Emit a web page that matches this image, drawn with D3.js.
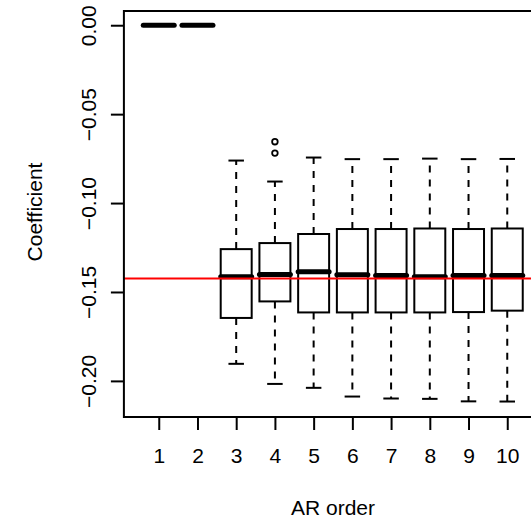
<!DOCTYPE html>
<html>
<head>
<meta charset="utf-8">
<script src="https://cdn.jsdelivr.net/npm/d3@7"></script>
<style>
  html, body { margin: 0; padding: 0; background: #fff; }
  svg { display: block; }
  text { font-family: "Liberation Sans", Arial, Helvetica, sans-serif; fill: #000; }
</style>
</head>
<body>
<svg id="chart" width="531" height="520"></svg>
<script>
// ---- data ----
const orders = [1, 2, 3, 4, 5, 6, 7, 8, 9, 10];
const upperWhisker = [0, 0, -0.0761, -0.0879, -0.0744, -0.0753, -0.0753, -0.0750, -0.0753, -0.0752];
const q3 = [0, 0, -0.1259, -0.1225, -0.1174, -0.1146, -0.1146, -0.1143, -0.1146, -0.1143];
const median = [0, 0, -0.1414, -0.1402, -0.1386, -0.1403, -0.1407, -0.1414, -0.1408, -0.1407];
const q1 = [0, 0, -0.1646, -0.1553, -0.1615, -0.1615, -0.1615, -0.1615, -0.1613, -0.1605];
const lowerWhisker = [0, 0, -0.1904, -0.2017, -0.2039, -0.2088, -0.2099, -0.2101, -0.2115, -0.2116];
const outlierOrders = [4, 4];
const outlierValues = [-0.0655, -0.0719];
const refValue = -0.1424;
const yTicks = [0.00, -0.05, -0.10, -0.15, -0.20];
const xLabel = "AR order";
const yLabel = "Coefficient";

// ---- layout ----
const FS = 21;
const plot = { left: 123.9, right: 542.1, top: 11, bottom: 417 };
const svg = d3.select("#chart");

const x = d3.scaleLinear().domain([0.1, 10.9]).range([plot.left, plot.right]);
const y = d3.scaleLinear().domain([-0.2203, 0.0080]).range([plot.bottom, plot.top]);

const boxW = (x(1) - x(0)) * 0.8;
const capW = boxW * 0.5;

svg.append("defs").append("clipPath").attr("id", "clip")
  .append("rect").attr("x", plot.left).attr("y", plot.top)
  .attr("width", plot.right - plot.left).attr("height", plot.bottom - plot.top);

const g = svg.append("g").attr("clip-path", "url(#clip)");

const boxes = orders.map((o, i) => ({
  o, hi: upperWhisker[i], q3: q3[i], med: median[i], q1: q1[i], lo: lowerWhisker[i]
}));

const bg = g.selectAll("g.box").data(boxes).join("g").attr("class", "box");

// whiskers (dashed), drawn from the box outwards
bg.filter(d => d.hi !== d.q3).append("line")
  .attr("x1", d => x(d.o)).attr("x2", d => x(d.o))
  .attr("y1", d => y(d.q3)).attr("y2", d => y(d.hi))
  .attr("stroke", "#000").attr("stroke-width", 2).attr("stroke-dasharray", "7,7");
bg.filter(d => d.lo !== d.q1).append("line")
  .attr("x1", d => x(d.o)).attr("x2", d => x(d.o))
  .attr("y1", d => y(d.q1)).attr("y2", d => y(d.lo))
  .attr("stroke", "#000").attr("stroke-width", 2).attr("stroke-dasharray", "7,7");
// staples
bg.filter(d => d.hi !== d.q3).append("line")
  .attr("x1", d => x(d.o) - capW / 2).attr("x2", d => x(d.o) + capW / 2)
  .attr("y1", d => y(d.hi)).attr("y2", d => y(d.hi))
  .attr("stroke", "#000").attr("stroke-width", 2);
bg.filter(d => d.lo !== d.q1).append("line")
  .attr("x1", d => x(d.o) - capW / 2).attr("x2", d => x(d.o) + capW / 2)
  .attr("y1", d => y(d.lo)).attr("y2", d => y(d.lo))
  .attr("stroke", "#000").attr("stroke-width", 2);
// box
bg.append("rect")
  .attr("x", d => x(d.o) - boxW / 2).attr("width", boxW)
  .attr("y", d => y(d.q3)).attr("height", d => y(d.q1) - y(d.q3))
  .attr("fill", "none").attr("stroke", "#000").attr("stroke-width", 2);
// median
bg.append("line")
  .attr("x1", d => x(d.o) - boxW / 2).attr("x2", d => x(d.o) + boxW / 2)
  .attr("y1", d => y(d.med)).attr("y2", d => y(d.med))
  .attr("stroke", "#000").attr("stroke-width", 5).attr("stroke-linecap", "round");

// outliers
g.selectAll("circle.out").data(outlierOrders.map((o, i) => ({ o, v: outlierValues[i] })))
  .join("circle").attr("class", "out")
  .attr("cx", d => x(d.o)).attr("cy", d => y(d.v)).attr("r", 2.8)
  .attr("fill", "none").attr("stroke", "#000").attr("stroke-width", 1.8);

// reference line
g.append("line")
  .attr("x1", plot.left).attr("x2", plot.right)
  .attr("y1", y(refValue)).attr("y2", y(refValue))
  .attr("stroke", "#ff0000").attr("stroke-width", 2);

// frame
svg.append("rect")
  .attr("x", plot.left).attr("y", plot.top)
  .attr("width", plot.right - plot.left).attr("height", plot.bottom - plot.top)
  .attr("fill", "none").attr("stroke", "#000").attr("stroke-width", 2);

// x axis
const xAxis = svg.append("g")
  .attr("transform", `translate(0,${plot.bottom})`)
  .call(d3.axisBottom(x).tickValues(orders).tickFormat(d3.format("d")).tickSize(13));
xAxis.select(".domain").remove();
xAxis.selectAll(".tick line").attr("stroke-width", 2);
xAxis.selectAll(".tick text")
  .attr("y", 39).attr("dy", "0.35em")
  .style("font-size", FS + "px").style("font-family", "Liberation Sans, Arial, sans-serif");

// y axis
const yAxis = svg.append("g")
  .attr("transform", `translate(${plot.left},0)`)
  .call(d3.axisLeft(y).tickValues(yTicks).tickFormat(d => d3.format(".2f")(d)).tickSize(13));
yAxis.select(".domain").remove();
yAxis.selectAll(".tick line").attr("stroke-width", 2);
yAxis.selectAll(".tick text")
  .attr("x", 0).attr("y", 0).attr("dy", "0.35em")
  .attr("text-anchor", "middle")
  .attr("transform", `translate(${89 - plot.left},0) rotate(-90)`)
  .style("font-size", FS + "px").style("font-family", "Liberation Sans, Arial, sans-serif");

// axis titles
svg.append("text").attr("x", (plot.left + plot.right) / 2).attr("y", 508).attr("dy", "0.35em")
  .attr("text-anchor", "middle").style("font-size", FS + "px").text(xLabel);
svg.append("text")
  .attr("transform", `translate(35,${(plot.top + plot.bottom) / 2 - 2}) rotate(-90)`)
  .attr("dy", "0.35em")
  .attr("text-anchor", "middle").style("font-size", FS + "px").text(yLabel);
</script>
</body>
</html>
